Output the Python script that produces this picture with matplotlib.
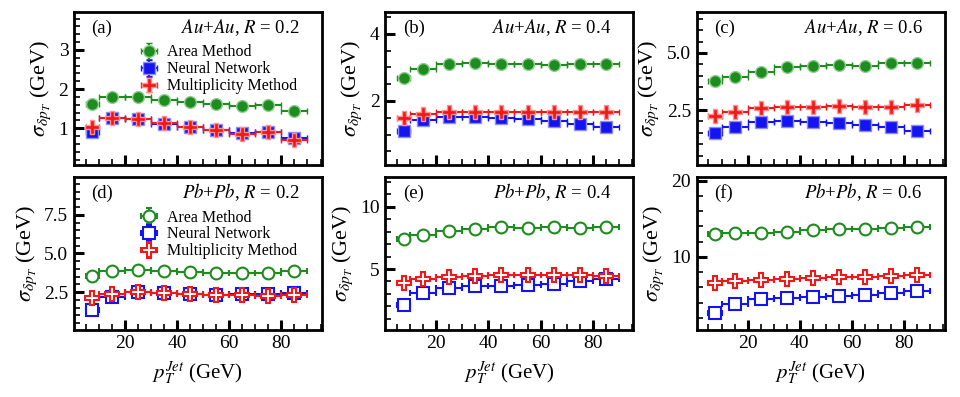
import numpy as np
import matplotlib
matplotlib.use("Agg")
import matplotlib.pyplot as plt
from matplotlib.ticker import MultipleLocator

plt.rcParams["font.family"] = ["Liberation Serif", "DejaVu Serif"]
plt.rcParams["mathtext.fontset"] = "stix"

# jet pT bins (GeV)
pt_center = [7.5, 15, 25, 35, 45, 55, 65, 75, 85]
pt_lo = [5, 10, 20, 30, 40, 50, 60, 70, 80]
pt_hi = [10, 20, 30, 40, 50, 60, 70, 80, 90]

# sigma_dpT (GeV)
area_au02 = [1.63, 1.81, 1.79, 1.73, 1.66, 1.63, 1.56, 1.59, 1.45]
nn_au02 = [0.90, 1.26, 1.24, 1.12, 1.03, 0.97, 0.88, 0.91, 0.75]
mult_au02 = [1.03, 1.26, 1.24, 1.14, 1.03, 0.95, 0.86, 0.91, 0.71]

area_au04 = [2.68, 2.95, 3.10, 3.12, 3.10, 3.10, 3.08, 3.10, 3.10]
nn_au04 = [1.12, 1.42, 1.52, 1.52, 1.48, 1.45, 1.40, 1.30, 1.22]
mult_au04 = [1.48, 1.62, 1.68, 1.68, 1.68, 1.68, 1.66, 1.66, 1.68]

area_au06 = [3.76, 3.93, 4.18, 4.37, 4.44, 4.47, 4.44, 4.55, 4.58]
nn_au06 = [1.48, 1.77, 1.96, 2.00, 1.97, 1.94, 1.84, 1.74, 1.56]
mult_au06 = [2.24, 2.41, 2.57, 2.62, 2.65, 2.66, 2.65, 2.65, 2.72]

area_pb02 = [3.55, 3.85, 3.94, 3.89, 3.80, 3.74, 3.74, 3.74, 3.85]
nn_pb02 = [1.32, 2.18, 2.48, 2.44, 2.35, 2.31, 2.35, 2.39, 2.44]
mult_pb02 = [2.09, 2.35, 2.48, 2.44, 2.35, 2.31, 2.31, 2.26, 2.31]

area_pb04 = [7.43, 7.75, 8.04, 8.20, 8.36, 8.31, 8.36, 8.28, 8.36]
nn_pb04 = [2.14, 3.07, 3.47, 3.60, 3.65, 3.73, 3.81, 4.07, 4.18]
mult_pb04 = [3.86, 4.18, 4.34, 4.44, 4.55, 4.55, 4.55, 4.55, 4.44]

area_pb06 = [13.04, 13.17, 13.17, 13.30, 13.48, 13.70, 13.70, 13.83, 13.96]
nn_pb06 = [2.60, 3.83, 4.49, 4.58, 4.67, 4.80, 5.02, 5.24, 5.55]
mult_pb06 = [6.56, 6.78, 6.96, 7.09, 7.22, 7.31, 7.40, 7.44, 7.58]

panels = [
    ("(a)", r"$Au$+$Au$, $R$ = 0.2", area_au02, nn_au02, mult_au02, (0.07, 3.97), 1, 0.2, 0.03),
    ("(b)", r"$Au$+$Au$, $R$ = 0.4", area_au04, nn_au04, mult_au04, (0.1, 4.65), 2, 0.5, 0.04),
    ("(c)", r"$Au$+$Au$, $R$ = 0.6", area_au06, nn_au06, mult_au06, (0.1, 6.8), 2.5, 0.5, 0.06),
    ("(d)", r"$Pb$+$Pb$, $R$ = 0.2", area_pb02, nn_pb02, mult_pb02, (0.05, 9.95), 2.5, 0.5, 0.08),
    ("(e)", r"$Pb$+$Pb$, $R$ = 0.4", area_pb04, nn_pb04, mult_pb04, (0.1, 12.4), 5, 1, 0.1),
    ("(f)", r"$Pb$+$Pb$, $R$ = 0.6", area_pb06, nn_pb06, mult_pb06, (0.4, 20.5), 10, 2, 0.15),
]

green = "#1e8c1e"
blue = "#1414f0"
red = "#f01818"
light = {green: "#8fcf8f", blue: "#8c8cff", red: "#ff9090"}

fig, axes = plt.subplots(2, 3, figsize=(9.6, 3.97), dpi=100)
fig.subplots_adjust(left=0.077, right=0.984, top=0.970, bottom=0.169,
                    wspace=0.256, hspace=0.08)

xc = np.array(pt_center)
xerr = [xc - np.array(pt_lo), np.array(pt_hi) - xc]

for i, (ax, p) in enumerate(zip(axes.flat, panels)):
    tag, title, area, nn, mult, ylim, major, minor, yerr = p
    filled = i < 3
    series = [
        (area, "o", green, 8.5, "Area Method"),
        (nn, "s", blue, 8.5, "Neural Network"),
        (mult, "P", red, 10, "Multiplicity Method"),
    ]
    for vals, mk, col, ms, lab in series:
        ax.errorbar(xc, vals, xerr=xerr, yerr=yerr, fmt=mk, color=col,
                    ms=ms, mfc=col if filled else "white",
                    mec=light[col] if filled else col,
                    mew=1.0 if filled else 1.5,
                    elinewidth=1.5, capsize=2.5, capthick=1.5, label=lab)

    ax.set_xlim(0.5, 95.5)
    ax.set_ylim(*ylim)
    ax.xaxis.set_major_locator(MultipleLocator(20))
    ax.xaxis.set_minor_locator(MultipleLocator(5))
    ax.yaxis.set_major_locator(MultipleLocator(major))
    ax.yaxis.set_minor_locator(MultipleLocator(minor))
    if i in (2, 3):
        ax.yaxis.set_major_formatter(matplotlib.ticker.FormatStrFormatter("%.1f"))
    ax.tick_params(which="major", direction="in", length=7, width=2.2,
                   labelsize=14, top=False, right=False, pad=4)
    ax.tick_params(which="minor", direction="in", length=4, width=1.2,
                   top=False, right=False)
    for s in ax.spines.values():
        s.set_linewidth(2)

    ax.text(0.07, 0.86, tag, transform=ax.transAxes, fontsize=13.5)
    ax.text(0.91, 0.86, title, transform=ax.transAxes, fontsize=13.5, ha="right")
    ax.set_ylabel(r"$\sigma_{\delta p_T}$ (GeV)", fontsize=16, labelpad=4)

    if filled:
        ax.tick_params(labelbottom=False)
    else:
        ax.set_xlabel(r"$p_T^{Jet}$ (GeV)", fontsize=15, labelpad=5)

    if i in (0, 3):
        ax.legend(loc="upper left", bbox_to_anchor=(0.22, 0.86), frameon=False,
                  fontsize=11.5, handlelength=1.2, handletextpad=0.5,
                  labelspacing=0.05, borderpad=0.2)

fig.savefig("out.png", dpi=100)
